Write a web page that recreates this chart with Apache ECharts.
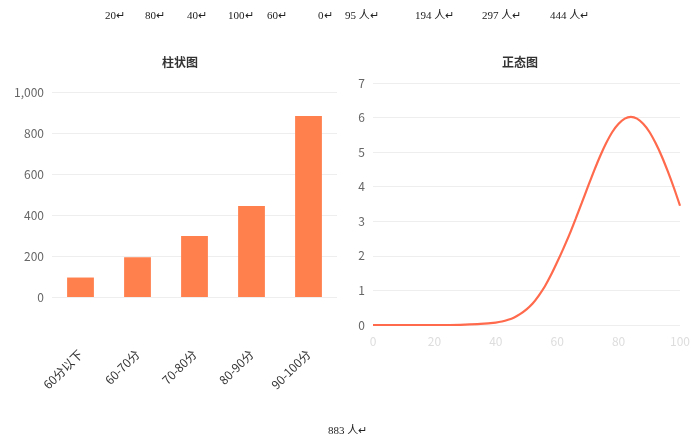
<!DOCTYPE html>
<html><head><meta charset="utf-8">
<script src="https://cdn.jsdelivr.net/npm/echarts@6/dist/echarts.min.js"></script>
<style>html,body{margin:0;padding:0;background:#fff}#c{width:693px;height:440px}</style>
</head><body><div id="c"></div>
<script>
const categories = ['60分以下', '60-70分', '70-80分', '80-90分', '90-100分'];
const counts = [95, 194, 297, 444, 883];
const curveX = [0, 5, 10, 15, 20, 25, 30, 35, 40, 42, 44, 46, 48, 50, 52, 54, 56, 58, 60, 62, 64, 66, 68, 70, 72, 74, 76, 78, 80, 82, 84, 86, 88, 90, 92, 94, 96, 98, 100];
const curveY = [0, 0, 0, 0, 0, 0, 0.01, 0.03, 0.07, 0.1, 0.15, 0.22, 0.32, 0.45, 0.62, 0.85, 1.12, 1.45, 1.82, 2.21, 2.62, 3.07, 3.53, 4.0, 4.46, 4.89, 5.27, 5.59, 5.82, 5.97, 6.02, 5.97, 5.82, 5.59, 5.27, 4.89, 4.45, 3.97, 3.45];
const topTexts = ['20↵', '80↵', '40↵', '100↵', '60↵', '0↵', '95 人↵', '194 人↵', '297 人↵', '444 人↵'];
const topTextX = [105, 145, 187, 228, 267, 318, 345, 415, 482, 550];
const bottomText = '883 人↵';

const chart = echarts.init(document.getElementById('c'));
const cjk = '"Noto Sans CJK SC", "Noto Sans", sans-serif';
const serif = '"Liberation Serif", "Noto Sans CJK SC", serif';
const graphics = topTexts.map((t, i) => ({
  type: 'text', left: topTextX[i], top: 11,
  style: { text: t, font: '11px ' + serif, fill: '#222' }
}));
graphics.push({ type: 'text', left: 328, top: 426, style: { text: bottomText, font: '11px ' + serif, fill: '#222' } });

chart.setOption({
  animation: false,
  textStyle: { fontFamily: cjk },
  title: [
    { text: '柱状图', left: 175, top: 51, textAlign: 'center', textStyle: { fontSize: 12, fontWeight: 'bold', color: '#333', fontFamily: cjk } },
    { text: '正态图', left: 515, top: 51, textAlign: 'center', textStyle: { fontSize: 12, fontWeight: 'bold', color: '#333', fontFamily: cjk } }
  ],
  graphic: graphics,
  grid: [
    { left: 52, right: 356, top: 92, bottom: 143 },
    { left: 373, right: 12, top: 83, bottom: 115 }
  ],
  xAxis: [
    { type: 'category', gridIndex: 0, data: categories,
      axisLine: { show: false }, axisTick: { show: false },
      axisLabel: { rotate: 45, margin: 55, color: '#333', fontSize: 12, interval: 0 } },
    { type: 'value', gridIndex: 1, min: 0, max: 100, interval: 20,
      axisLine: { show: false }, axisTick: { show: false }, splitLine: { show: false },
      axisLabel: { color: '#ddd', fontSize: 12, margin: 10 } }
  ],
  yAxis: [
    { type: 'value', gridIndex: 0, min: 0, max: 1000, interval: 200,
      axisLine: { show: false }, axisTick: { show: false },
      axisLabel: { color: '#666', fontSize: 12 },
      splitLine: { lineStyle: { color: '#eee' } } },
    { type: 'value', gridIndex: 1, min: 0, max: 7, interval: 1,
      axisLine: { show: false }, axisTick: { show: false },
      axisLabel: { color: '#666', fontSize: 12 },
      splitLine: { lineStyle: { color: '#eee' } } }
  ],
  series: [
    { type: 'bar', xAxisIndex: 0, yAxisIndex: 0, data: counts, barWidth: '47%',
      itemStyle: { color: '#ff7f4d' } },
    { type: 'line', xAxisIndex: 1, yAxisIndex: 1, smooth: 0.3, showSymbol: false,
      data: curveX.map((x, i) => [x, curveY[i]]),
      lineStyle: { color: '#ff6a4d', width: 2.2 } }
  ]
});
</script></body></html>
